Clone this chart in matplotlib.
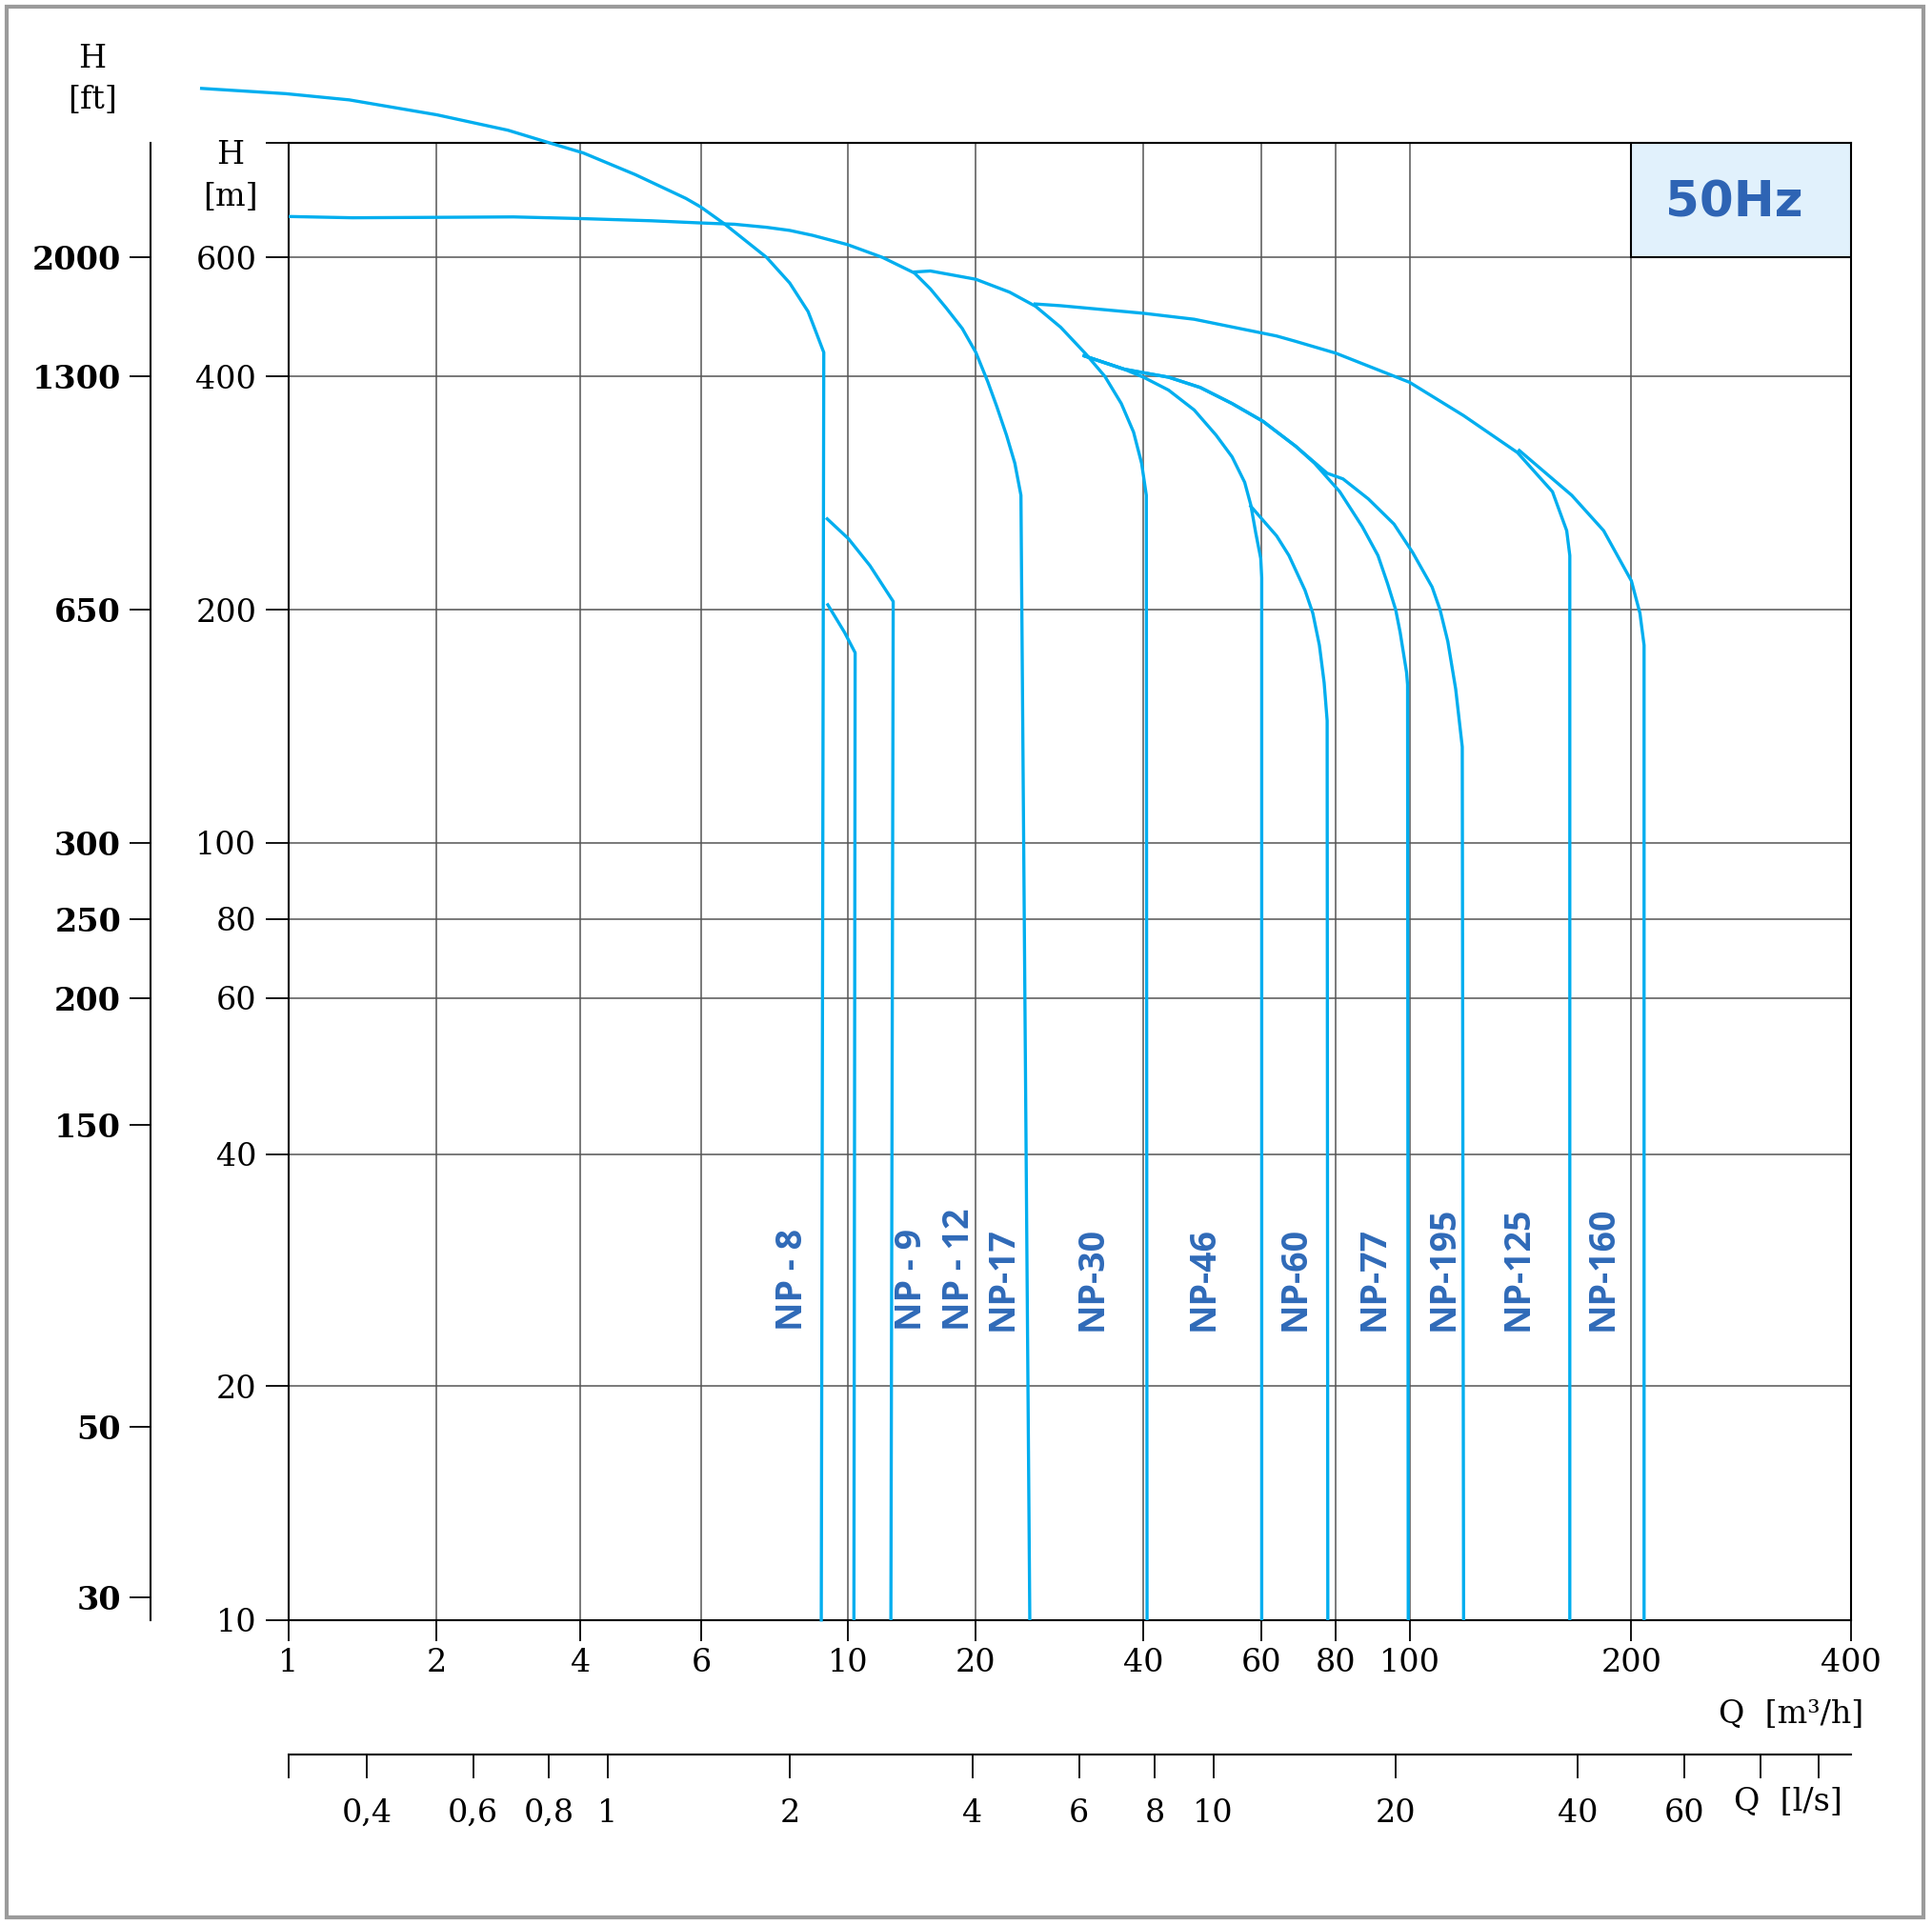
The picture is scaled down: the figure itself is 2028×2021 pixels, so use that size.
import numpy as np
import matplotlib
matplotlib.use("Agg")
import matplotlib.pyplot as plt
from matplotlib.patches import Rectangle
from matplotlib.ticker import FixedLocator, FixedFormatter, NullLocator

# ---- pump curves, Q in m3/h, H in m ----
q_np8 = [0.666, 0.988, 1.331, 2.007, 2.825, 3.448, 4.04, 4.81, 5.70, 5.99, 6.52, 7.54, 8.17,
         8.71, 8.86, 9.20, 9.12]
h_np8 = [1068, 1049, 1027, 976, 926, 887, 857, 796, 734, 713, 672, 600, 550,
         499, 478, 434, 10]

q_np9 = [9.33, 9.89, 10.41, 10.34]
h_np9 = [203, 187, 176, 10]

q_np12 = [9.31, 10.04, 11.28, 12.79, 12.63]
h_np12 = [262, 247, 228, 205, 10]

q_np17 = [1.0, 1.35, 2.0, 2.90, 4.03, 5.08, 5.99, 6.74, 7.54, 8.17, 8.85, 9.99, 12.08, 14.35,
          15.64, 17.04, 18.58, 20.0, 21.0, 21.8, 22.7, 23.5, 24.1, 25.0]
h_np17 = [690, 687, 688, 689, 685, 680, 675, 672, 665, 658, 647, 627, 600, 569,
          539, 505, 471, 434, 394, 366, 336, 309, 281, 10]

q_np30 = [14.35, 15.64, 20.0, 23.0, 25.6, 28.4, 31.5, 34.1, 36.5, 38.4, 39.7, 40.4, 40.5]
h_np30 = [571, 573, 557, 533, 508, 473, 432, 400, 369, 339, 309, 281, 10]

q_np46 = [31.3, 36.9, 40.0, 43.6, 47.6, 51.3, 54.2, 56.6, 57.8, 58.8, 59.8, 60.0, 60.0]
h_np46 = [429, 410, 399, 384, 362, 336, 315, 292, 273, 251, 233, 220, 10]

q_np60 = [57.8, 63.6, 66.7, 71.0, 73.2, 75.1, 76.5, 77.4, 77.6]
h_np60 = [272, 249, 235, 212, 198, 180, 161, 143.8, 10]

q_np77 = [31.3, 36.9, 40.0, 43.6, 48.6, 54.2, 60.3, 68.5, 73.7, 81.0, 86.7, 90.9, 93.6, 95.9,
          97.2, 99.1, 99.4, 99.6]
h_np77 = [429, 410, 405, 399, 387, 369, 350, 325, 309, 284, 256, 235, 216, 200,
          187, 166, 160, 10]

q_np195 = [31.3, 36.9, 40.0, 43.6, 48.6, 54.2, 60.3, 68.5, 77.4, 81.8, 88.3, 95.4, 101.0,
           107.3, 110.0, 112.7, 115.5, 117.9, 118.4]
h_np195 = [429, 410, 405, 399, 387, 369, 350, 325, 300, 295, 278, 258, 237,
           214, 200, 182, 158, 133, 10]

q_np125 = [25.56, 28.4, 40.0, 47.6, 63.6, 68.3, 80.0, 100, 118.4, 140.1, 156.3, 163.4, 165.0, 165.0]
h_np125 = [512, 509, 496, 486, 459, 451, 433, 393, 356, 319, 284, 253, 235, 10]

q_np160 = [140.9, 166.0, 183.4, 200, 205.5, 208.2, 208.2]
h_np160 = [321, 281, 253, 218, 198, 180, 10]

curves = [(q_np8, h_np8), (q_np9, h_np9), (q_np12, h_np12), (q_np17, h_np17),
          (q_np30, h_np30), (q_np46, h_np46), (q_np60, h_np60), (q_np77, h_np77),
          (q_np195, h_np195), (q_np125, h_np125), (q_np160, h_np160)]

# model labels and where they sit (Q)
names = ["NP - 8", "NP - 9", "NP - 12", "NP-17", "NP-30", "NP-46", "NP-60", "NP-77",
         "NP-195", "NP-125", "NP-160"]
name_q = [8.26, 14.11, 18.25, 22.4, 32.4, 49.2, 68.3, 89.8, 111.4, 140.4, 183.1]
name_h = 23.6

# tick values / labels
q_ticks = [1, 2, 4, 6, 10, 20, 40, 60, 80, 100, 200, 400]
h_ticks = [10, 20, 40, 60, 80, 100, 200, 400, 600]
ft_labels = ["2000", "1300", "650", "300", "250", "200", "150", "50", "30"]
ft_at_m = [600, 400, 200, 100, 80, 60, 43.2, 17.7, 10.7]
ls_ticks = [0.4, 0.6, 0.8, 1, 2, 4, 6, 8, 10, 20, 40, 60, 80, 100]
ls_labels = ["0,4", "0,6", "0,8", "1", "2", "4", "6", "8", "10", "20", "40", "60", "", ""]
ls_lim = (0.297, 112.8)

# the printed grid is not an even log grid: spacing of the grid lines (in px of a 1568 wide view)
q_grid_px = [234, 354, 471, 569, 688, 792, 928, 1024, 1084, 1144, 1324, 1502]
h_grid_px = [1315, 1125, 937, 810, 746, 684, 495, 305.5, 209]


def warp(vals, pos):
    lv = np.log10(vals)
    p = np.asarray(pos, float)
    s0 = (p[1] - p[0]) / (lv[1] - lv[0])
    s1 = (p[-1] - p[-2]) / (lv[-1] - lv[-2])

    def fwd(v):
        l = np.log10(np.clip(np.asarray(v, float), 1e-9, None))
        out = np.interp(l, lv, p)
        out = np.where(l < lv[0], p[0] + (l - lv[0]) * s0, out)
        out = np.where(l > lv[-1], p[-1] + (l - lv[-1]) * s1, out)
        return out

    def inv(x):
        x = np.asarray(x, float)
        l = np.interp(x, p, lv)
        l = np.where(x < p[0], lv[0] + (x - p[0]) / s0, l)
        l = np.where(x > p[-1], lv[-1] + (x - p[-1]) / s1, l)
        return 10 ** l

    return fwd, inv


fx, ix = warp(q_ticks, q_grid_px)
fy, iy = warp(h_ticks, [-v for v in h_grid_px])
h_top = float(iy(-116.0))

plt.rcParams["font.family"] = "DejaVu Serif"
W, H = 2028, 2021
fig = plt.figure(figsize=(W / 100, H / 100), dpi=100)

S = W / 1568.0
left, right = 234 * S / W, 1502 * S / W
bot, top = 1 - 1315 * S / H, 1 - 116 * S / H

ax = fig.add_axes([left, bot, right - left, top - bot])
ax.set_xscale("function", functions=(fx, ix))
ax.set_yscale("function", functions=(fy, iy))
ax.set_xlim(1, 400)
ax.set_ylim(10, h_top)

blue = "#00AEEF"
for i, (q, h) in enumerate(curves):
    ax.plot(q, h, color=blue, lw=2.4, solid_joinstyle="round", zorder=4,
            clip_on=(i != 0))

ax.xaxis.set_major_locator(FixedLocator(q_ticks))
ax.xaxis.set_major_formatter(FixedFormatter([str(v) for v in q_ticks]))
ax.xaxis.set_minor_locator(NullLocator())
ax.yaxis.set_major_locator(FixedLocator(h_ticks + [h_top]))
ax.yaxis.set_major_formatter(FixedFormatter([str(v) for v in h_ticks] + [""]))
ax.yaxis.set_minor_locator(NullLocator())
ax.tick_params(axis="x", direction="out", length=16, width=1.3, pad=5, labelsize=24)
ax.tick_params(axis="y", direction="out", length=17, width=1.3, pad=7, labelsize=24)
ax.grid(True, color="#555555", lw=1.1)
for sp in ax.spines.values():
    sp.set_linewidth(1.5)

for name, q in zip(names, name_q):
    ax.text(q, name_h, name, rotation=90, ha="center", va="bottom", color="#2F6AB8",
            fontsize=27, fontweight="bold", family="Open Sans", zorder=5)

box = Rectangle((200, 600), 200, h_top - 600, facecolor="#E1F1FC", edgecolor="black",
                lw=1.5, zorder=3)
ax.add_patch(box)
ax.annotate("50Hz", xy=(0.47, 0.47), xycoords=box, ha="center", va="center",
            fontsize=37, fontweight="bold", color="#2E64B4", family="DejaVu Sans", zorder=6)

# feet scale on the far left
ax_ft = fig.add_axes([157.7 / W, bot, 1e-4, top - bot])
ax_ft.set_yscale("function", functions=(fy, iy))
ax_ft.set_ylim(10, h_top)
ax_ft.set_facecolor("none")
for k in ["top", "right", "bottom"]:
    ax_ft.spines[k].set_visible(False)
ax_ft.spines["left"].set_linewidth(1.5)
ax_ft.set_xticks([])
ax_ft.yaxis.set_major_locator(FixedLocator(ft_at_m))
ax_ft.yaxis.set_major_formatter(FixedFormatter(ft_labels))
ax_ft.yaxis.set_minor_locator(NullLocator())
ax_ft.tick_params(axis="y", direction="out", length=16, width=1.3, pad=6, labelsize=24)
for t in ax_ft.get_yticklabels():
    t.set_fontweight("bold")

# l/s scale under the chart
ax_ls = fig.add_axes([left, 1 - 1842 / H, right - left, 1e-4])
ax_ls.set_xscale("log")
ax_ls.set_xlim(*ls_lim)
ax_ls.set_facecolor("none")
for k in ["top", "right", "left"]:
    ax_ls.spines[k].set_visible(False)
ax_ls.spines["bottom"].set_linewidth(1.5)
ax_ls.set_yticks([])
ax_ls.xaxis.set_major_locator(FixedLocator([ls_lim[0]] + ls_ticks))
ax_ls.xaxis.set_major_formatter(FixedFormatter([""] + ls_labels))
ax_ls.xaxis.set_minor_locator(NullLocator())
ax_ls.tick_params(axis="x", direction="out", length=18, width=1.3, pad=15, labelsize=24)

# axis titles
fig.text(97 / W, 1 - 61.7 / H, "H", ha="center", va="center", fontsize=24)
fig.text(97 / W, 1 - 105 / H, "[ft]", ha="center", va="center", fontsize=24)
fig.text(242 / W, 1 - 162.5 / H, "H", ha="center", va="center", fontsize=24)
fig.text(242 / W, 1 - 206.7 / H, "[m]", ha="center", va="center", fontsize=24)
fig.text(1956 / W, 1 - 1800 / H, "Q  [m³/h]", ha="right", va="center", fontsize=24)
fig.text(1820 / W, 1 - 1892 / H, "Q  [l/s]", ha="left", va="center", fontsize=24)

# grey frame round the picture
fig.add_artist(Rectangle((7 / W, 1 - 2013 / H), 2012 / W, 2006 / H, transform=fig.transFigure,
                         fill=False, edgecolor="#9B9B9B", lw=3))

fig.savefig("out.png", dpi=100)
